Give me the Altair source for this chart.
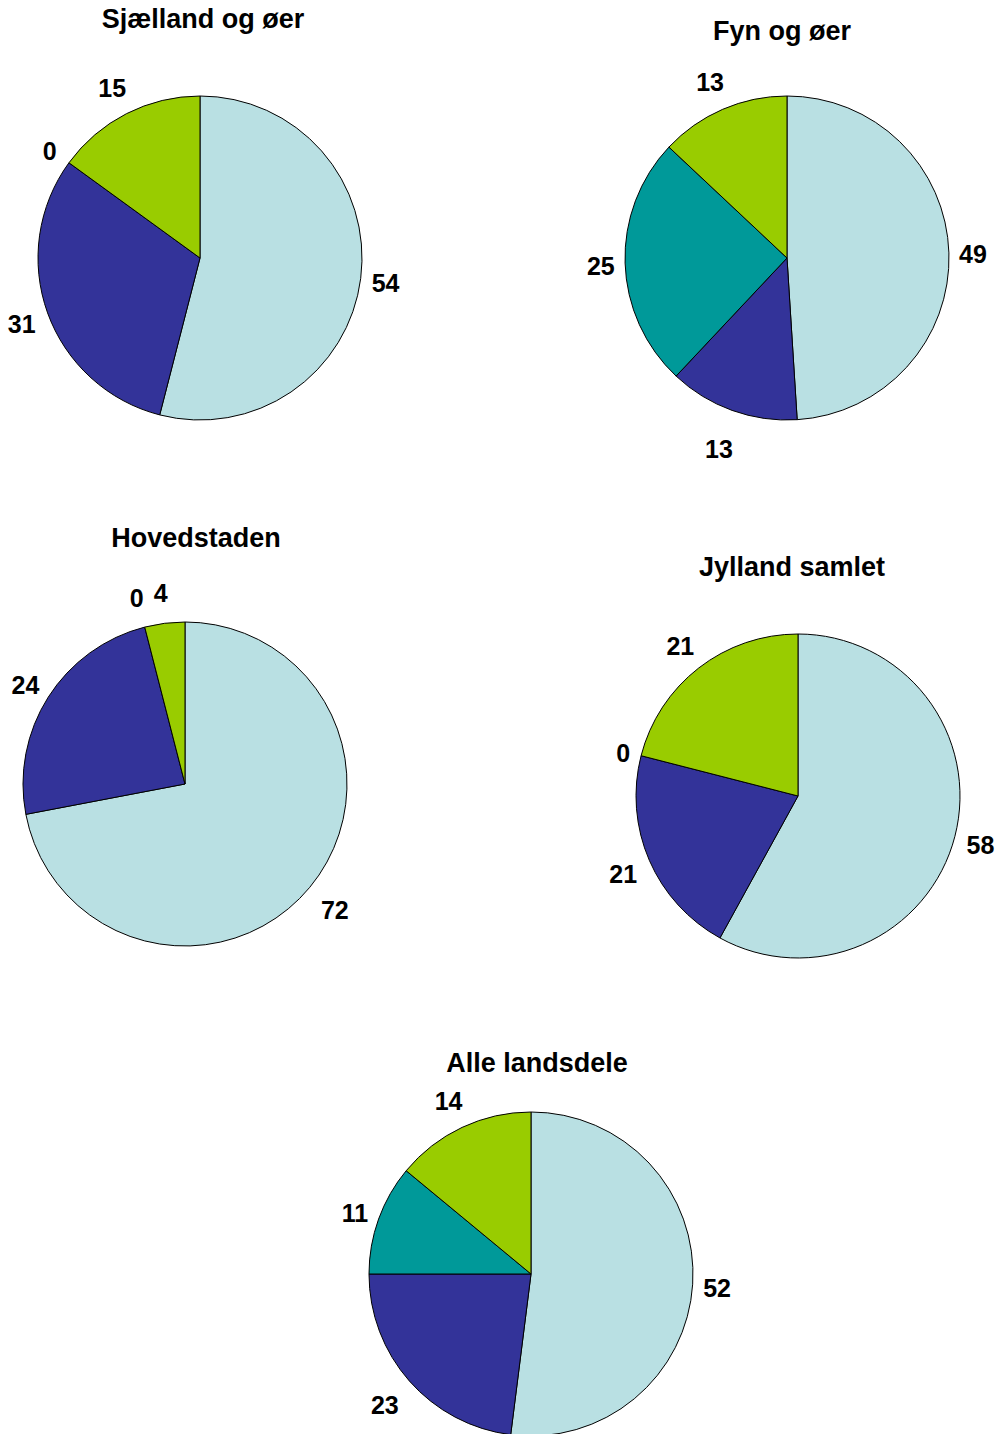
import altair as alt
import numpy as np
import pandas as pd

# Share of each category (percent), listed clockwise from 12 o'clock
regions = ["Sjælland og øer", "Fyn og øer", "Hovedstaden", "Jylland samlet", "Alle landsdele"]
categories = ["Kategori 1", "Kategori 2", "Kategori 3", "Kategori 4"]
colors = ["#B9E0E3", "#333399", "#009999", "#99CC00"]

sjaelland = [54, 31, 0, 15]
fyn = [49, 13, 25, 13]
hovedstaden = [72, 24, 0, 4]
jylland = [58, 21, 0, 21]
alle = [52, 23, 11, 14]
values = [sjaelland, fyn, hovedstaden, jylland, alle]

# Layout: pie centres and title anchors on the page (pixels)
centre_x = [200, 787, 185, 798, 531]
centre_y = [258, 258, 784, 796, 1274]
title_x = [203, 782, 196, 792, 537]
title_y = [20, 32, 539, 568, 1064]
RADIUS = 162
LABEL_FONT = 25
W, H = 999, 1434


def label_offset(angle, text):
    """Distance from the pie centre to a label placed just outside the rim.

    The label box is treated as an ellipse around the text, so wide labels
    sit further out at the sides and all labels clear the rim at top/bottom.
    """
    s, c = np.sin(angle), np.cos(angle)
    half_w = 10 + 7 * len(text)
    half_h = 33
    extent = np.sqrt((half_w * s) ** 2 + (half_h * c) ** 2)
    return RADIUS + extent + 7 * max(0.0, -c)


rows = []
for i, region in enumerate(regions):
    vals = np.array(values[i], dtype=float)
    frac = vals / vals.sum()
    ends = np.cumsum(frac) * 2 * np.pi
    starts = ends - frac * 2 * np.pi
    for j, cat in enumerate(categories):
        mid = (starts[j] + ends[j]) / 2
        text = str(values[i][j])
        dist = label_offset(mid, text)
        rows.append({
            "region": region,
            "category": cat,
            "value": values[i][j],
            "t0": starts[j],
            "t1": ends[j],
            "cx": centre_x[i],
            "cy": centre_y[i],
            "lx": centre_x[i] + dist * np.sin(mid),
            "ly": centre_y[i] - dist * np.cos(mid) + 3,
        })
slices = pd.DataFrame(rows)
titles = pd.DataFrame({"region": regions, "tx": title_x, "ty": title_y})

xs = alt.Scale(domain=[0, W], range=[0, W])
ys = alt.Scale(domain=[0, H], range=[0, H])

arcs = alt.Chart(slices).transform_filter("datum.value > 0").mark_arc(
    radius=RADIUS, stroke="black", strokeWidth=1
).encode(
    x=alt.X("cx:Q", scale=xs, axis=None),
    y=alt.Y("cy:Q", scale=ys, axis=None),
    theta=alt.Theta("t0:Q", scale=None, stack=None),
    theta2="t1:Q",
    color=alt.Color("category:N", scale=alt.Scale(domain=categories, range=colors), legend=None),
)

labels = alt.Chart(slices).mark_text(
    font="Liberation Sans", fontWeight="bold", fontSize=LABEL_FONT, color="black",
    align="center", baseline="middle",
).encode(
    x=alt.X("lx:Q", scale=xs, axis=None),
    y=alt.Y("ly:Q", scale=ys, axis=None),
    text="value:Q",
)

heads = alt.Chart(titles).mark_text(
    font="Liberation Sans", fontWeight="bold", fontSize=27, color="black",
    align="center", baseline="middle",
).encode(
    x=alt.X("tx:Q", scale=xs, axis=None),
    y=alt.Y("ty:Q", scale=ys, axis=None),
    text="region:N",
)

chart = alt.layer(arcs, labels, heads).properties(
    width=W, height=H, padding=0, autosize=alt.AutoSizeParams(type="none"),
    background="white",
).configure_view(stroke=None)

chart.save("out.html", embed_options={"renderer": "svg", "actions": False})
